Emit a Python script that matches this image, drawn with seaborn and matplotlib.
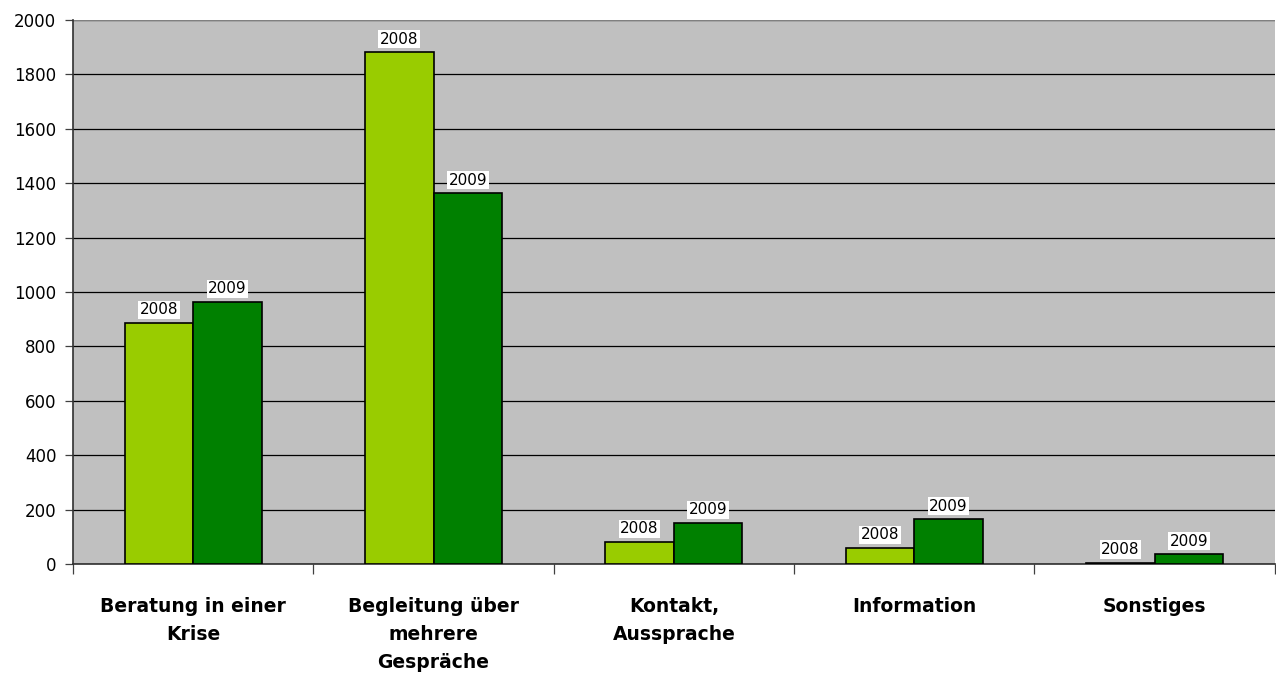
import matplotlib
matplotlib.use("Agg")
import matplotlib.pyplot as plt
import seaborn as sns
import pandas as pd

categories = ["Beratung in einer\nKrise", "Begleitung über\nmehrere\nGespräche",
              "Kontakt,\nAussprache", "Information", "Sonstiges"]
years = ["2008", "2009"]
values_2008 = [886, 1882, 81, 59, 5]
values_2009 = [963, 1363, 152, 164, 35]
y_ticks = [0, 200, 400, 600, 800, 1000, 1200, 1400, 1600, 1800, 2000]
colors = ["#99CC00", "#008000"]

df = pd.DataFrame({
    "Kategorie": categories * 2,
    "Jahr": [years[0]] * len(categories) + [years[1]] * len(categories),
    "Anzahl": values_2008 + values_2009,
})

sns.set_theme(style="white")
plt.rcParams["font.family"] = ["DejaVu Sans"]
plt.rcParams["text.color"] = "black"
plt.rcParams["xtick.color"] = "black"
plt.rcParams["ytick.color"] = "black"

fig = plt.figure(figsize=(12.76, 6.77), dpi=100)
ax = fig.add_axes([0.0572, 0.167, 0.9418, 0.8035])
ax.set_facecolor("#C0C0C0")

sns.barplot(data=df, x="Kategorie", y="Anzahl", hue="Jahr", palette=colors,
            width=0.57, edgecolor="black", linewidth=1.2, saturation=1,
            legend=False, ax=ax, zorder=3)

ax.set_ylim(0, 2000)
ax.set_xlim(-0.5, len(categories) - 0.5)
ax.set_yticks(y_ticks)
ax.set_yticklabels([str(t) for t in y_ticks], fontsize=12)
ax.yaxis.grid(True, color="black", linewidth=0.9)
ax.set_axisbelow(True)
ax.axhline(2000, color="#808080", linewidth=1.5, zorder=1)

# year labels above each bar
for container, year in zip(ax.containers, years):
    for bar in container:
        ax.annotate(year, (bar.get_x() + bar.get_width() / 2, bar.get_height()),
                    xytext=(0, 4), textcoords="offset points",
                    ha="center", va="bottom", fontsize=11, color="black",
                    bbox=dict(boxstyle="square,pad=0.1", fc="white", ec="none"),
                    zorder=5)

# category labels between boundary ticks
ax.set_xticks(range(len(categories)))
ax.set_xticklabels(categories, fontsize=13.5, fontweight="bold", linespacing=1.6)
ax.tick_params(axis="x", length=0, pad=24)
ax.set_xticks([i - 0.5 for i in range(len(categories) + 1)], minor=True)
ax.tick_params(axis="x", which="minor", length=7, width=0.9, color="#404040",
               direction="out", bottom=True)
ax.tick_params(axis="y", length=6, width=0.9, color="#404040", direction="out",
               left=True, pad=6)
for lbl in ax.get_yticklabels():
    lbl.set_color("black")

ax.set_xlabel("")
ax.set_ylabel("")
for side in ["top", "right"]:
    ax.spines[side].set_visible(False)
ax.spines["left"].set_color("#303030")
ax.spines["left"].set_linewidth(1.2)
ax.spines["bottom"].set_color("#303030")
ax.spines["bottom"].set_linewidth(1.2)

fig.savefig("out.png", dpi=100)
